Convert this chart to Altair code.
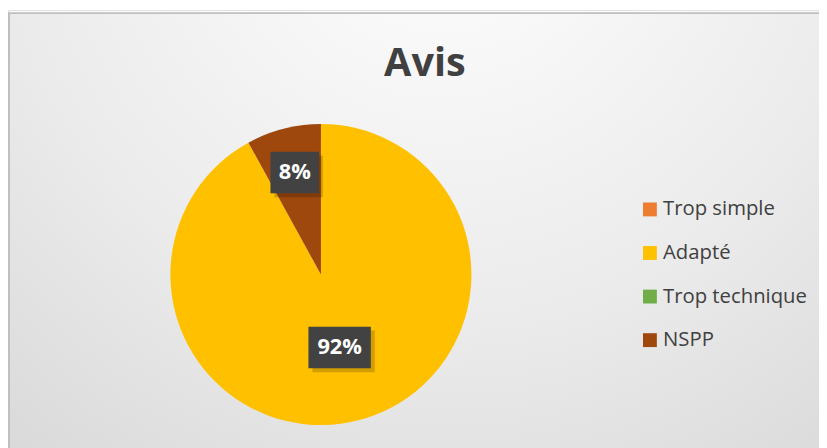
import altair as alt
import pandas as pd

# ---- data ----
categories = ["Trop simple", "Adapté", "Trop technique", "NSPP"]
values = [0, 92, 0, 8]
colors = ["#ED7D31", "#FFC000", "#70AD47", "#9E480E"]
title_text = "Avis"

df = pd.DataFrame({"cat": categories, "val": values, "order": list(range(len(categories)))})

W, H = 819, 440
CX, CY, R = 316, 267, 152
FONT = "Open Sans"

# background frame with radial gradient
bg = alt.Chart(pd.DataFrame({"d": [0]})).mark_rect(
    fill={
        "gradient": "radial",
        "x1": 0.52, "y1": 0.08, "x2": 0.52, "y2": 0.08,
        "r1": 0, "r2": 0.95,
        "stops": [
            {"offset": 0, "color": "#ffffff"},
            {"offset": 0.55, "color": "#ebebeb"},
            {"offset": 1, "color": "#d4d4d4"},
        ],
    },
    stroke="#bfbfbf",
    strokeWidth=2,
).encode(x=alt.value(1), x2=alt.value(840), y=alt.value(3), y2=alt.value(460))

title = alt.Chart(pd.DataFrame({"t": [title_text]})).mark_text(
    font=FONT, fontSize=40, fontWeight="bold", color="#404040", baseline="alphabetic", align="center"
).encode(text="t:N", x=alt.value(421), y=alt.value(67))

color_scale = alt.Scale(domain=categories, range=colors)

pie = alt.Chart(df).mark_arc(radius=R, stroke="#ffffff", strokeWidth=0).encode(
    theta=alt.Theta("val:Q", stack=True),
    order=alt.Order("order:Q"),
    color=alt.Color(
        "cat:N",
        scale=color_scale,
        sort=categories,
        legend=alt.Legend(
            title=None,
            orient="none",
            legendX=638,
            legendY=191,
            symbolType="square",
            symbolSize=196,
            symbolStrokeWidth=0,
            labelFont=FONT,
            labelFontSize=20.5,
            labelColor="#404040",
            labelOffset=3,
            rowPadding=23,
            padding=0,
        ),
    ),
    x=alt.value(CX),
    y=alt.value(CY),
)

lab = alt.Chart(df).transform_joinaggregate(total="sum(val)").transform_window(
    cum="sum(val)", sort=[alt.SortField("order")], frame=[None, 0]
).transform_filter("datum.val > 0").transform_calculate(
    mid="(datum.cum - datum.val/2) / datum.total * 2 * PI",
    rr=f"datum.val / datum.total > 0.5 ? {R}*0.5 : {R}*0.7",
    label="format(datum.val / datum.total, '.0%')",
).transform_calculate(
    px=f"{CX} + datum.rr * sin(datum.mid)",
    py=f"{CY} - datum.rr * cos(datum.mid)",
    hw="(14 * length(datum.label) + 21) / 2",
).transform_calculate(
    x1="datum.px - datum.hw", x2="datum.px + datum.hw",
    y1="datum.py - 21", y2="datum.py + 21",
    sx1="datum.px - datum.hw + 4", sx2="datum.px + datum.hw + 4",
    sy1="datum.py - 17", sy2="datum.py + 25",
)

shadow = lab.mark_rect(color="#000000", opacity=0.18).encode(
    x=alt.X("sx1:Q", scale=None, axis=None), x2="sx2:Q",
    y=alt.Y("sy1:Q", scale=None, axis=None), y2="sy2:Q",
)
box = lab.mark_rect(color="#424242").encode(
    x=alt.X("x1:Q", scale=None, axis=None), x2="x2:Q",
    y=alt.Y("y1:Q", scale=None, axis=None), y2="y2:Q",
)
txt = lab.mark_text(font=FONT, fontSize=22, fontWeight="bold", color="#ffffff", baseline="middle", align="center").encode(
    x=alt.X("px:Q", scale=None, axis=None),
    y=alt.Y("py:Q", scale=None, axis=None),
    text="label:N",
)

chart = alt.layer(bg, title, pie, shadow, box, txt).properties(
    width=W, height=H, autosize=alt.AutoSizeParams(type="none"), padding=0
).configure_view(stroke=None).configure(background="#ffffff")

chart.save("out.html", embed_options={"renderer": "svg", "actions": False})
